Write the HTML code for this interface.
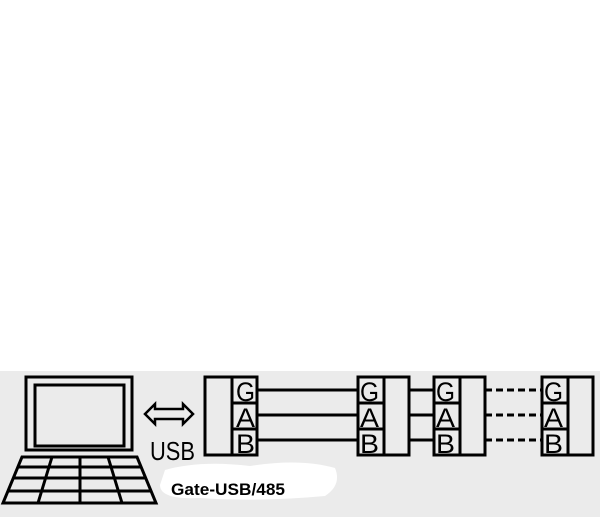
<!DOCTYPE html>
<html><head><style>
html,body{margin:0;padding:0;background:#fff;}
</style></head><body>
<svg width="600" height="517" xmlns="http://www.w3.org/2000/svg" style="display:block">
<rect x="0" y="371" width="600" height="146" fill="#ebebeb"/>
<path d="M165,470 Q200,460 250,466 Q300,458 335,468 Q342,485 325,496 Q260,502 200,498 Q160,500 160,485 Z" fill="#fff"/>
<g fill="none" stroke="#000" stroke-width="3">
<rect x="26" y="377" width="106" height="73"/>
<rect x="35" y="385" width="89" height="61"/>
<path d="M22,457 L137,457 L156,503 L3,503 Z"/>
<path d="M19,467 L141,467 M14,478 L146,478 M8,491 L151,491"/>
<path d="M80,457 L80,503 M52,457 L38,503 M108,457 L122,503"/>
<path d="M145,414 L155,404 L155,409 L183,409 L183,404 L193,414 L183,424 L183,419 L155,419 L155,424 Z" stroke-width="2.5"/>
<rect x="205" y="377" width="52" height="78"/>
<path d="M232,377 V455 M232,403 H257 M232,429 H257"/>
<rect x="358" y="377" width="51" height="78"/>
<path d="M384,377 V455 M358,403 H384 M358,429 H384"/>
<rect x="434" y="377" width="51" height="78"/>
<path d="M460,377 V455 M434,403 H460 M434,429 H460"/>
<rect x="542" y="377" width="51" height="78"/>
<path d="M568,377 V455 M542,403 H568 M542,429 H568"/>
<path d="M257,390 H358 M257,415 H358 M257,440 H358 M409,390 H434 M409,415 H434 M409,440 H434"/>
<path d="M485,390 H542 M485,415 H542 M485,440 H542" stroke-dasharray="7,4"/>
</g>
<g font-family="Liberation Sans, sans-serif" font-size="27" fill="#000">
<text x="150" y="460" font-size="26" textLength="45" lengthAdjust="spacingAndGlyphs">USB</text>
<text x="236" y="401" textLength="19" lengthAdjust="spacingAndGlyphs">G</text>
<text x="236" y="427" textLength="19" lengthAdjust="spacingAndGlyphs">A</text>
<text x="236" y="453" textLength="19" lengthAdjust="spacingAndGlyphs">B</text>
<text x="360" y="401" textLength="19" lengthAdjust="spacingAndGlyphs">G</text>
<text x="360" y="427" textLength="19" lengthAdjust="spacingAndGlyphs">A</text>
<text x="360" y="453" textLength="19" lengthAdjust="spacingAndGlyphs">B</text>
<text x="436" y="401" textLength="19" lengthAdjust="spacingAndGlyphs">G</text>
<text x="436" y="427" textLength="19" lengthAdjust="spacingAndGlyphs">A</text>
<text x="436" y="453" textLength="19" lengthAdjust="spacingAndGlyphs">B</text>
<text x="544" y="401" textLength="19" lengthAdjust="spacingAndGlyphs">G</text>
<text x="544" y="427" textLength="19" lengthAdjust="spacingAndGlyphs">A</text>
<text x="544" y="453" textLength="19" lengthAdjust="spacingAndGlyphs">B</text>
<text x="171" y="495" font-size="17" font-weight="bold" textLength="114" lengthAdjust="spacingAndGlyphs">Gate-USB/485</text>
</g>
</svg>
</body></html>
